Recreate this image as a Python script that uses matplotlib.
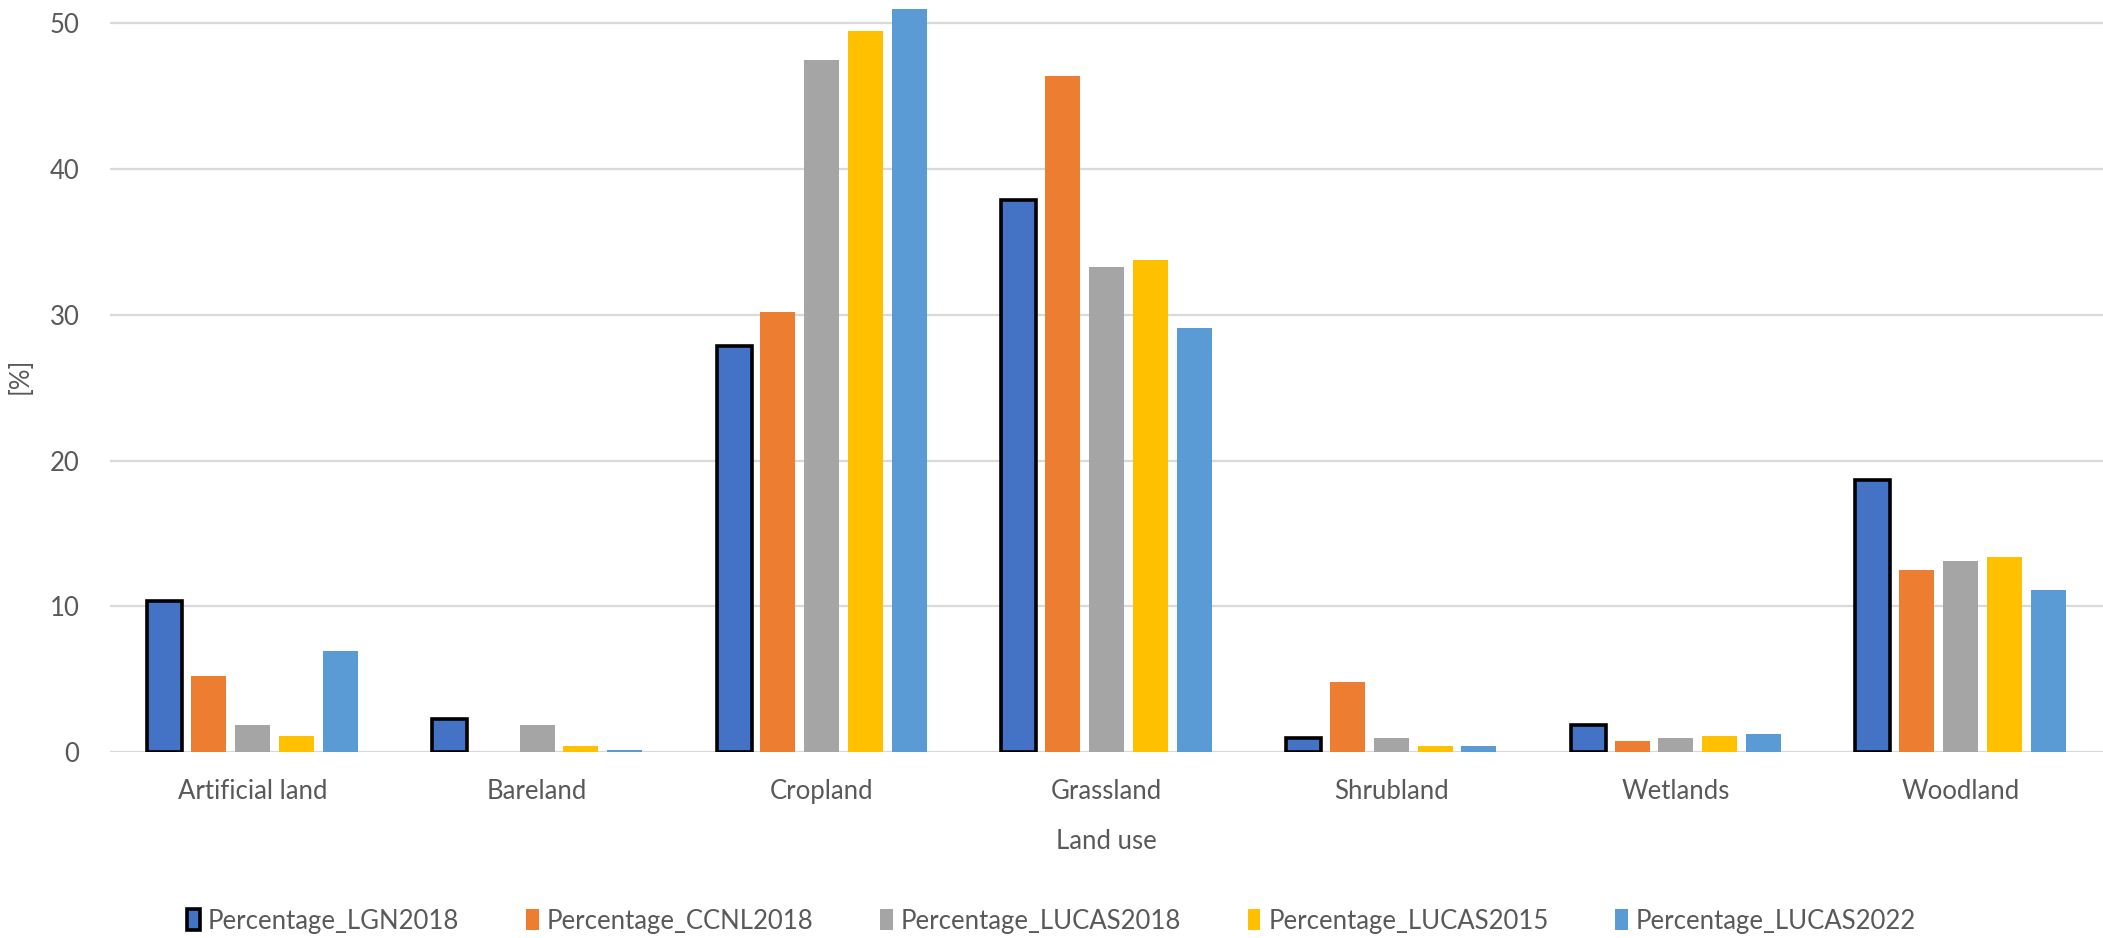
import matplotlib
matplotlib.use("Agg")
import matplotlib.pyplot as plt
import numpy as np

plt.rcParams['font.family'] = ['Lato', 'DejaVu Sans']

land_use = ['Artificial land', 'Bareland', 'Cropland', 'Grassland',
            'Shrubland', 'Wetlands', 'Woodland']

lgn2018 = [10.4, 2.3, 27.9, 37.9, 1.0, 1.85, 18.7]
ccnl2018 = [5.2, 0.0, 30.2, 46.4, 4.8, 0.8, 12.5]
lucas2018 = [1.9, 1.9, 47.5, 33.3, 1.0, 1.0, 13.1]
lucas2015 = [1.1, 0.45, 49.5, 33.8, 0.45, 1.1, 13.4]
lucas2022 = [6.95, 0.15, 51.0, 29.1, 0.45, 1.25, 11.1]

series = [
    ('Percentage_LGN2018', lgn2018, '#4472C4'),
    ('Percentage_CCNL2018', ccnl2018, '#ED7D31'),
    ('Percentage_LUCAS2018', lucas2018, '#A5A5A5'),
    ('Percentage_LUCAS2015', lucas2015, '#FFC000'),
    ('Percentage_LUCAS2022', lucas2022, '#5B9BD5'),
]

text_color = '#595959'
grid_color = '#D9D9D9'
fs = 18.5

fig = plt.figure(figsize=(21.03, 9.38), dpi=100)
ax = fig.add_axes([0.0523, 0.198, 0.9477, 0.802])

x = np.arange(len(land_use))
step = 0.154
width = 0.123

for i, (name, vals, color) in enumerate(series):
    pos = x + (i - 2) * step
    if i == 0:
        ax.bar(pos, vals, width, color=color, edgecolor='black',
               linewidth=2.6, label=name, zorder=3)
    else:
        ax.bar(pos, vals, width, color=color, linewidth=0,
               label=name, zorder=3)

ax.set_xlim(-0.5, len(land_use) - 0.5)
ax.set_ylim(0, 51.6)
ax.set_yticks([0, 10, 20, 30, 40, 50])
ax.set_xticks(x)
ax.set_xticklabels(land_use)

ax.grid(axis='y', color=grid_color, linewidth=1.6, zorder=0)
ax.set_axisbelow(True)
for s in ax.spines.values():
    s.set_visible(False)

ax.tick_params(axis='both', length=0, labelsize=fs, colors=text_color)
ax.tick_params(axis='y', pad=22)
ax.tick_params(axis='x', pad=19)

ax.set_xlabel('Land use', fontsize=fs, color=text_color, labelpad=18)
ax.set_ylabel('[%]', fontsize=fs, color=text_color, labelpad=12)

fig.legend(loc='lower center', bbox_to_anchor=(0.5, -0.02), ncol=5,
           frameon=False, fontsize=fs, labelcolor=text_color,
           handlelength=0.5, handleheight=0.85, handletextpad=0.3,
           columnspacing=2.6)

plt.savefig('out.png', dpi=100)
